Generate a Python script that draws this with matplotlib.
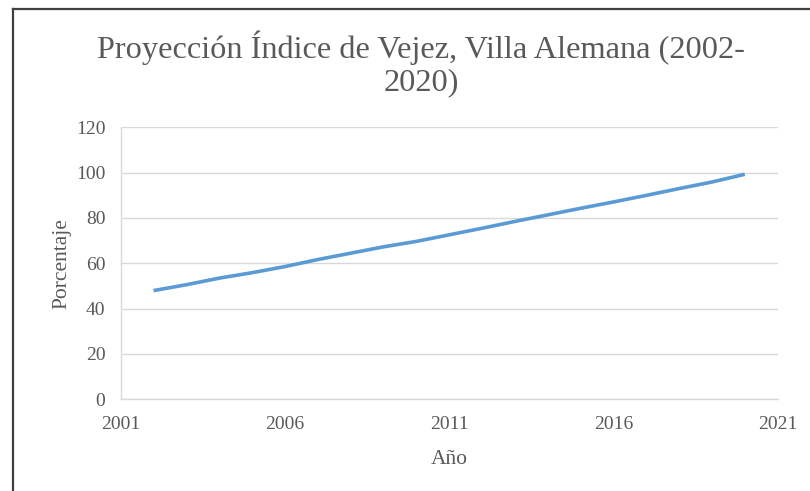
import matplotlib.pyplot as plt
from matplotlib.lines import Line2D

years = [2002, 2003, 2004, 2005, 2006, 2007, 2008, 2009, 2010, 2011,
         2012, 2013, 2014, 2015, 2016, 2017, 2018, 2019, 2020]
indice = [47.9, 50.5, 53.4, 55.8, 58.5, 61.6, 64.4, 67.2, 69.6, 72.5,
          75.4, 78.4, 81.3, 84.2, 87.0, 89.9, 92.9, 95.8, 99.2]
x_ticks = [2001, 2006, 2011, 2016, 2021]
y_ticks = [0, 20, 40, 60, 80, 100, 120]

plt.rcParams['font.family'] = ['Liberation Serif', 'DejaVu Serif']
gray = '#595959'

fig = plt.figure(figsize=(8.1, 4.91), dpi=100)
ax = fig.add_axes([0.149, 0.187, 0.811, 0.554])

ax.plot(years, indice, color='#5b9bd5', linewidth=2.6, solid_capstyle='butt')

ax.set_xlim(2001, 2021)
ax.set_ylim(0, 120)
ax.set_xticks(x_ticks)
ax.set_yticks(y_ticks)
ax.grid(axis='y', color='#d9d9d9', linewidth=1)
ax.set_axisbelow(True)
for side in ['top', 'right']:
    ax.spines[side].set_visible(False)
for side in ['left', 'bottom']:
    ax.spines[side].set_color('#d9d9d9')
    ax.spines[side].set_linewidth(1)
ax.tick_params(length=0, labelsize=14, labelcolor=gray)
ax.tick_params(axis='x', pad=12)
ax.tick_params(axis='y', pad=11)

ax.set_xlabel('Año', fontsize=15.5, color=gray, labelpad=12)
ax.set_ylabel('Porcentaje', fontsize=15.5, color=gray, labelpad=3)

fig.text(0.52, 0.870, 'Proyección Índice de Vejez, Villa Alemana (2002-\n2020)',
         ha='center', va='center', fontsize=23.3, color=gray, linespacing=1.12)

# border of the chart box (left and top visible)
fig.add_artist(Line2D([13/810, 13/810], [0, 1 - 9/491], color='#404040', linewidth=1.6))
fig.add_artist(Line2D([13/810, 1], [1 - 9/491, 1 - 9/491], color='#404040', linewidth=1.6))

fig.savefig('out.png', dpi=100, facecolor='white')
